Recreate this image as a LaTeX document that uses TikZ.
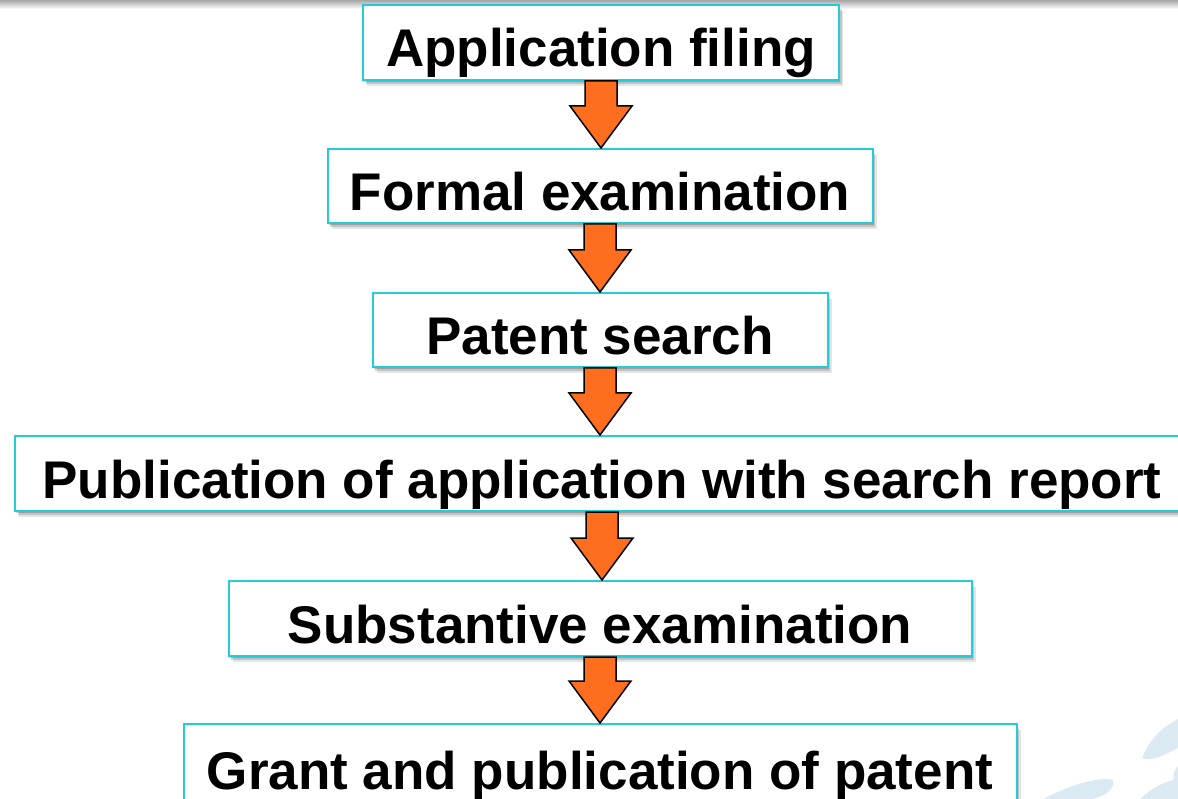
\documentclass[tikz,border=0pt]{standalone}
\usepackage{fontspec}
\setmainfont{Liberation Sans}
\usetikzlibrary{calc,shadows}
\definecolor{boxline}{RGB}{34,204,217}
\definecolor{arrowfill}{RGB}{255,110,30}
\definecolor{swirl}{RGB}{218,233,242}
\tikzset{
  stepbox/.style={draw=boxline, line width=2pt, fill=white, inner sep=0pt,
    text height=55pt, text depth=6pt,
    font=\fontsize{53}{60}\selectfont\bfseries,
    drop shadow={shadow xshift=1pt, shadow yshift=-2pt, opacity=.18, fill=black},
    drop shadow={shadow xshift=2.5pt, shadow yshift=-4pt, opacity=.15, fill=black},
    drop shadow={shadow xshift=4pt, shadow yshift=-6pt, opacity=.10, fill=black}},
  flowarrow/.style={fill=arrowfill, draw=black, line width=1.5pt, line join=miter}
}
% block arrow from the bottom of one box to the top of the next
\newcommand\flowstep[2]{%
  \draw[flowarrow] let \p1=(#1.south), \p2=(#2.north) in
    (\x1-16pt,\y1) -- (\x1-16pt,\y2+42pt) -- (\x1-31pt,\y2+42pt) -- (\x1,\y2)
    -- (\x1+31pt,\y2+42pt) -- (\x1+16pt,\y2+42pt) -- (\x1+16pt,\y1) -- cycle;}
\begin{document}
\begin{tikzpicture}[x=1pt,y=-1pt]
  \useasboundingbox (0,0) rectangle (1178,799);
  \clip (0,0) rectangle (1178,799);
  \fill[white] (0,0) rectangle (1178,799);
  % page header band
  \shade[top color=black!35, bottom color=white] (0,0) rectangle (1178,9);
  % background swirl in the lower right corner
  \fill[swirl] (1142,758) .. controls (1150,738) and (1163,727) .. (1178,719)
    -- (1178,748) .. controls (1165,755) and (1150,762) .. (1142,758) -- cycle;
  \fill[swirl] (1043,799) .. controls (1068,786) and (1098,776) .. (1113,780)
    .. controls (1116,790) and (1102,797) .. (1092,799) -- cycle;
  \fill[swirl] (1178,766) .. controls (1172,772) and (1172,782) .. (1178,786) -- cycle;
  \fill[swirl] (1140,799) .. controls (1152,788) and (1165,781) .. (1178,779)
    -- (1178,799) -- cycle;

  \node[stepbox, minimum width=476, minimum height=75] (filing) at (601,42.5) {Application filing};
  \node[stepbox, minimum width=545, minimum height=74] (formal) at (600,186) {Formal examination};
  \node[stepbox, minimum width=455, minimum height=74] (search) at (600,330) {Patent search};
  \node[stepbox, minimum width=1174, minimum height=75] (publish) at (602,473.5) {Publication of application with search report};
  \node[stepbox, minimum width=743, minimum height=75] (subst) at (600,618.5) {Substantive examination};
  \node[stepbox, minimum width=833, minimum height=82] (grant) at (600,765) {Grant and publication of patent};

  \flowstep{filing}{formal}
  \flowstep{formal}{search}
  \flowstep{search}{publish}
  \flowstep{publish}{subst}
  \flowstep{subst}{grant}
\end{tikzpicture}
\end{document}
